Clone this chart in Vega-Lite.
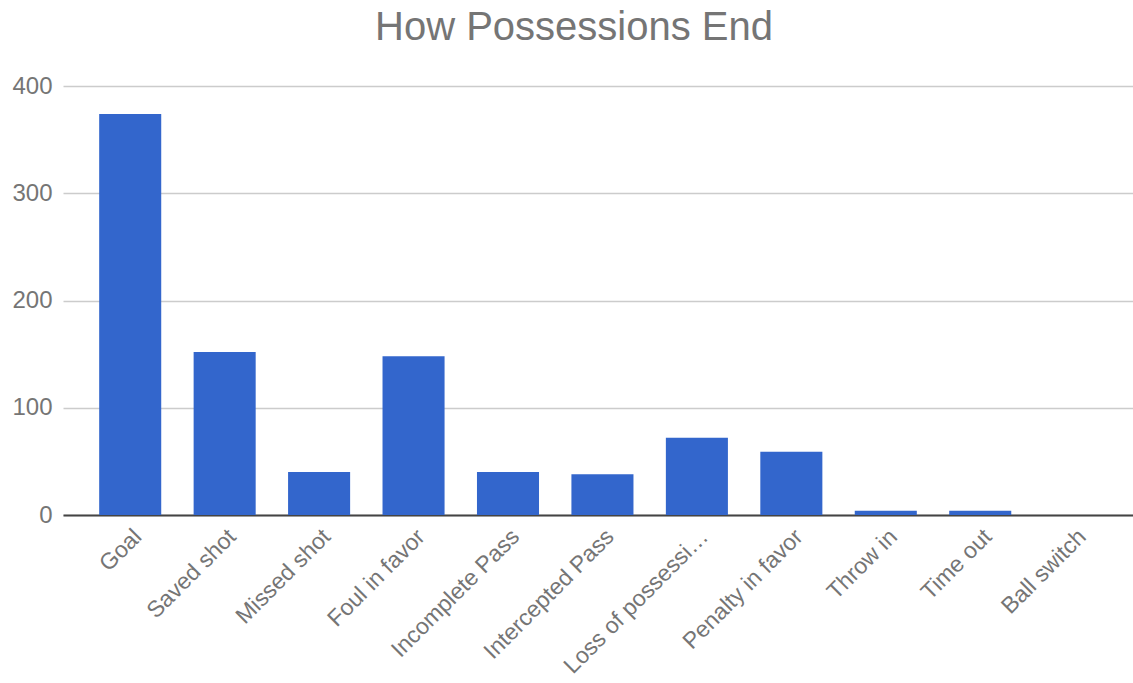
{
  "$schema": "https://vega.github.io/schema/vega-lite/v6.json",
  "autosize": "none",
  "width": 1070,
  "height": 429,
  "padding": {"left": 63, "top": 86, "right": 0, "bottom": 168},
  "background": "white",
  "title": {
    "text": "How Possessions End",
    "font": "Liberation Sans",
    "fontSize": 40,
    "fontWeight": "normal",
    "color": "#757575",
    "anchor": "middle",
    "dx": -24,
    "offset": 26
  },
  "data": {
    "values": [
      {"outcome": "Goal", "count": 374},
      {"outcome": "Saved shot", "count": 152},
      {"outcome": "Missed shot", "count": 40},
      {"outcome": "Foul in favor", "count": 148},
      {"outcome": "Incomplete Pass", "count": 40},
      {"outcome": "Intercepted Pass", "count": 38},
      {"outcome": "Loss of possession", "count": 72},
      {"outcome": "Penalty in favor", "count": 59},
      {"outcome": "Throw in", "count": 4},
      {"outcome": "Time out", "count": 4},
      {"outcome": "Ball switch", "count": 0}
    ]
  },
  "mark": {"type": "bar", "color": "#3366CC"},
  "encoding": {
    "x": {
      "field": "outcome",
      "type": "nominal",
      "sort": null,
      "scale": {"paddingInner": 0.343, "paddingOuter": 0.336, "align": 0.57},
      "axis": {
        "title": null,
        "labelAngle": -45,
        "labelFont": "Liberation Sans",
        "labelFontSize": 23,
        "labelColor": "#757575",
        "labelLimit": 194,
        "labelPadding": 10,
        "labelOverlap": false,
        "ticks": false,
        "domainColor": "#444444",
        "domainWidth": 2
      }
    },
    "y": {
      "field": "count",
      "type": "quantitative",
      "scale": {"domain": [0, 400]},
      "axis": {
        "title": null,
        "values": [0, 100, 200, 300, 400],
        "labelFont": "Liberation Sans",
        "labelFontSize": 24,
        "labelColor": "#757575",
        "labelPadding": 11,
        "ticks": false,
        "domain": false,
        "gridColor": "#cccccc",
        "gridWidth": 1.5
      }
    }
  },
  "config": {"view": {"stroke": null}}
}
